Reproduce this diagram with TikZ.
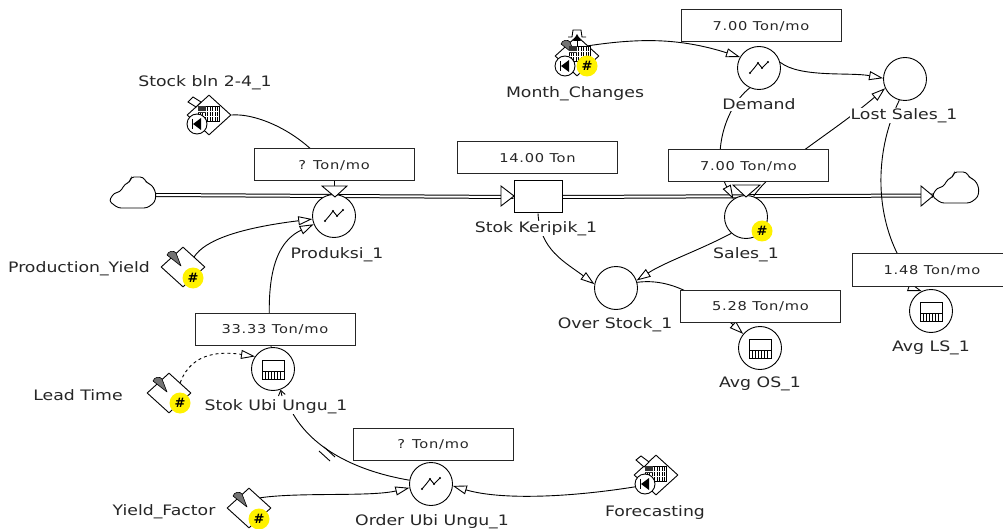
\documentclass[tikz,border=0pt]{standalone}
\usepackage{fontspec}
\setmainfont{DejaVu Sans}
\newfontfamily\lblfont[FakeStretch=1.2]{DejaVu Sans}
\newfontfamily\valfont[FakeStretch=1.2,LetterSpace=6]{DejaVu Sans}
\usetikzlibrary{arrows.meta,shapes.geometric,backgrounds,calc}
\tikzset{
  lab/.style={font=\lblfont\fontsize{14.4}{16}\selectfont,inner sep=0.5pt,text=black!85,fill=white,yshift=-1.5pt},
  valbox/.style={draw=black!85,fill=white,line width=1pt,minimum width=160pt,minimum height=32pt,inner sep=0pt,text height=9pt,text depth=0pt,font=\valfont\fontsize{12.2}{14}\selectfont,text=black!85},
  circ/.style={draw=black,fill=white,circle,line width=0.9pt,minimum size=43pt,inner sep=0pt},
  smallcirc/.style={draw=black,fill=white,circle,line width=0.9pt,minimum size=20pt,inner sep=0pt},
  stockbox/.style={draw=black,fill=white,line width=1pt,minimum width=48pt,minimum height=32pt,inner sep=0pt},
  ghost/.style={draw=black,fill=white,diamond,aspect=1.1,line width=0.9pt,minimum width=44pt,minimum height=40pt,inner sep=0pt},
  conn/.style={draw=black,line width=0.9pt},
  arr/.style={conn,-{Triangle[length=14pt,width=9pt,fill=white,line width=0.9pt]}},
  tinyarr/.style={conn,-{Straight Barb[length=5pt,width=7pt,line width=0.9pt]}},
  flowl/.style={draw=black,line width=1pt,double=white,double distance=2pt},
  headtri/.style={draw=black,fill=white,line width=0.9pt,line join=miter},
}
\newcommand{\hashbadge}[2]{%
  \fill[yellow] (#1,#2) circle (10.5pt);
  \node[font=\fontsize{13}{13}\selectfont\bfseries,inner sep=0pt] at (#1,#2) {\#};}
\newcommand{\conemark}[2]{%
  \begin{scope}[shift={(#1,#2)}]
  \draw[fill=black!55,line width=0.6pt,line join=round] (-16,-12) .. controls (-15,-16) and (-9,-17) .. (-7,-14) -- (-2,-1) -- cycle;
  \end{scope}}
\newcommand{\gridmark}[2]{%
  \begin{scope}[shift={(#1,#2)}]
  \draw[line width=0.6pt,fill=white] (-11,-8) rectangle (10,7);
  \foreach \xv in {-9,-6.5,-4,-1.5,1,3.5,6,8.5}{\draw[line width=0.9pt] (\xv,-8)--(\xv,7);}
  \fill[black!80] (-11,-8) rectangle (-3,-1);
  \draw[white,line width=0.6pt] (-11,-3)--(10,-3);
  \draw[white,line width=0.6pt] (-11,2)--(10,2);
  \end{scope}}
\newcommand{\playmark}[3]{%
  \node[smallcirc] (#3) at (#1,#2) {};
  \begin{scope}[shift={(#1,#2)}]
  \fill (4,-6)--(4,6)--(-4,0)--cycle;
  \draw[line width=0.9pt] (-5,-5)--(-5,5);
  \end{scope}}
\newcommand{\graphmark}[2]{%
  \begin{scope}[shift={(#1,#2)}]
  \draw[line width=0.9pt] (-9,5)--(-4,-1)--(-1,-5)--(3,0)--(9,-6);
  \foreach \pp in {(-9,5),(-1,-5),(3,0),(9,-6)}{\fill \pp circle (1.1pt);}
  \end{scope}}
\newcommand{\tablemark}[2]{%
  \begin{scope}[shift={(#1,#2)}]
  \draw[line width=1pt] (-11,-9) rectangle (11,10);
  \draw[line width=1pt] (-11,2)--(11,2);
  \foreach \xv in {-8,-5,-2,1,4,7}{\draw[line width=0.9pt] (\xv,2)--(\xv,10);}
  \end{scope}}
\newcommand{\cloudmark}[2]{%
  \begin{scope}[shift={(#1,#2)}]
  \draw[line width=0.9pt,fill=white,rounded corners=3pt] (-24,8)--(-19,0)--(-13,-1)--(-8,-9)--(-3,-11)--(-2,-16)--(10,-16)--(14,-10)--(19,-8)--(23,0)--(22,9)--(14,15)--(-15,15)--cycle;
  \end{scope}}
\begin{document}
\begin{tikzpicture}[x=1pt,y=-1pt]
\useasboundingbox (0,0) rectangle (1003,529);
\begin{pgfonlayer}{background}
\fill[white] (0,0) rectangle (1003,529);
\end{pgfonlayer}

% flow elements
\coordinate (cloudLe) at (156,195);
\coordinate (cloudRw) at (933,195.5);
\node[stockbox] (stock) at (538,197) {};

% value boxes
\node[valbox] (bProd) at (334,165) {? Ton/mo};
\node[valbox] (bStock) at (537.5,158) {14.00 Ton};
\node[valbox] (bDem) at (761,26) {7.00 Ton/mo};
\node[valbox] (bSales) at (748.5,166) {7.00 Ton/mo};
\node[valbox] (bOS) at (760.5,306) {5.28 Ton/mo};
\node[valbox] (bLS) at (932,270) {1.48 Ton/mo};
\node[valbox] (bUbi) at (275,329) {33.33 Ton/mo};
\node[valbox] (bOrder) at (433,444) {? Ton/mo};

% circles
\node[circ] (prod) at (334,216) {};
\node[circ] (dem) at (759,68) {};
\node[circ] (lost) at (905,79) {};
\node[circ] (sales) at (746,217) {};
\node[circ] (over) at (616,288) {};
\node[circ] (avgos) at (760,348) {};
\node[circ] (avgls) at (931,311) {};
\node[circ] (ubi) at (273,369) {};
\node[circ] (order) at (431,484) {};

% ghost icons
\node[ghost] (gStock) at (209,115) {};
\node[ghost] (gMonth) at (577,56) {};
\node[ghost] (gYield) at (183,267) {};
\node[ghost] (gLead) at (169,393) {};
\node[ghost] (gFactor) at (249,508) {};
\node[ghost] (gFore) at (656,475) {};

\begin{pgfonlayer}{background}
\draw[flowl] (cloudLe) -- (stock.west);
\draw[flowl] (stock.east) -- (cloudRw);
% connectors
\draw[conn] (gStock.east) .. controls (255,113) and (300,130) .. (330,170);
\draw[conn] (bProd.south -| prod) -- (prod.north);
\draw[arr] (gYield.north east) .. controls (205,240) and (240,228) .. (prod.188);
\draw[arr] (ubi.95) .. controls (266,290) and (270,245) .. (prod.202);
\draw[arr,dashed] (gLead.north east) .. controls (192,350) and (225,352) .. (ubi.145);
\draw[conn] (order.170) .. controls (350,470) and (310,445) .. (292,412);
\draw[tinyarr] (282,396) -- (ubi.-70);
\draw[conn] (319,451)--(330,461);
\draw[conn] (324,447)--(335,457);
\draw[arr] (gFactor.north east) .. controls (300,492) and (370,497) .. (order.190);
\draw[arr] (gFore.south west) .. controls (570,498) and (500,500) .. (order.-5);
\draw[arr] (gMonth.north east) .. controls (640,38) and (680,38) .. (dem.150);
\draw[arr] (dem.15) .. controls (800,78) and (850,72) .. (lost.178);
\draw[arr] (dem.245) .. controls (722,110) and (712,160) .. (sales.125);
\draw[arr] (sales.70) .. controls (775,165) and (830,135) .. (lost.205);
\draw[arr] (sales.228) .. controls (700,250) and (665,262) .. (over.20);
\draw[arr] (stock.south) .. controls (540,250) and (565,262) .. (over.170);
\draw[arr] (over.15) .. controls (670,278) and (700,295) .. (avgos.140);
\draw[conn] (lost.255) .. controls (875,150) and (875,210) .. (898,255);
\draw[arr] (bLS.south -| 908,0) -- (avgls.115);
\end{pgfonlayer}

% valves
\draw[headtri] (322,186)--(347,186)--(335,197)--cycle;
\draw[headtri] (733,185)--(760,185)--(746,197)--cycle;

\cloudmark{133}{193}
\cloudmark{956}{188}
\draw[headtri] (501,186)--(514,196)--(501,206)--cycle;
\draw[headtri] (921,186)--(933,196)--(921,206)--cycle;

% inner marks
\graphmark{334}{216}
\graphmark{431}{484}
\graphmark{759}{68}
\tablemark{760}{348}
\tablemark{931}{311}
\tablemark{273}{369}
\hashbadge{762}{231}

% ghost details
\conemark{183}{267}\hashbadge{193}{278}
\conemark{169}{393}\hashbadge{180}{403}
\conemark{249}{508}\hashbadge{259}{519}
\conemark{577}{56}\gridmark{580}{54}
\draw[line width=0.9pt,fill=white] (577,46)--(577,38);
\draw[line width=0.9pt,fill=white] (572,37)--(573,30)--(581,30)--(582,37)--(586,37) (572,37)--(568,37);
\fill (577,34)--(573,41)--(581,41)--cycle;
\playmark{565}{66}{pMonth}\hashbadge{587}{66}
\draw[line width=0.9pt,fill=white] (188,102)--(193,97)--(201,102)--(196,107)--cycle;
\gridmark{209}{114}\playmark{197}{124}{pStock}
\draw[line width=0.9pt,fill=white] (636,460)--(641,456)--(649,462)--(644,467)--cycle;
\gridmark{656}{474}\playmark{645}{484}{pFore}

% labels
\node[lab] (lStock) at (205,81) {Stock bln 2-4\_1};
\node[lab] (lMonth) at (575,92) {Month\_Changes};
\node[lab] (lProd) at (337,253) {Produksi\_1};
\node[lab] (lYield) at (79,267) {Production\_Yield};
\node[lab] (lKer) at (536,227) {Stok Keripik\_1};
\node[lab] (lDem) at (759,103) {Demand};
\node[lab] (lLost) at (904,114) {Lost Sales\_1};
\node[lab] (lSales) at (746,253) {Sales\_1};
\node[lab] (lOver) at (615,323) {Over Stock\_1};
\node[lab] (lAvgOS) at (760,382) {Avg OS\_1};
\node[lab] (lAvgLS) at (931,346) {Avg LS\_1};
\node[lab] (lLead) at (78,394) {Lead Time};
\node[lab] (lUbi) at (276,405) {Stok Ubi Ungu\_1};
\node[lab] (lOrder) at (432,520) {Order Ubi Ungu\_1};
\node[lab] (lFactor) at (164,510) {Yield\_Factor};
\node[lab] (lFore) at (655,511) {Forecasting};
\end{tikzpicture}
\end{document}
